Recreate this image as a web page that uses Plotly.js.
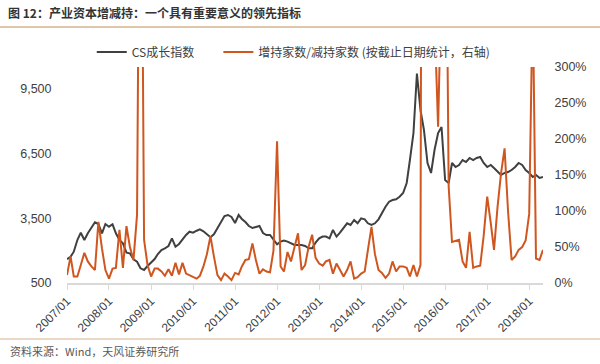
<!DOCTYPE html>
<html>
<head>
<meta charset="utf-8">
<script src="https://cdn.plot.ly/plotly-3.0.1.min.js"></script>
<style>html,body{margin:0;padding:0;background:#fff;}#chart{width:600px;height:364px;}</style>
</head>
<body>
<div id="chart"></div>
<script>
// Monthly data, 2007/01 .. 2018/05
const startMonth = "2007-01";
const monthCount = 137;

const csGrowth = [
  1597,1718,1949,2491,2829,2491,2801,3032,3310,3231,2801,3231,
  3107,3218,2801,2491,2338,1903,1872,1597,1486,1181,1102,1287,
  1456,1611,1843,2028,2106,2213,2569,2181,2306,2523,2722,2875,
  2829,2921,2986,2894,2755,2620,2755,3046,3315,3602,3648,3556,
  3278,3648,3463,3324,3139,3046,3093,3139,2815,2722,2722,2491,
  2292,2415,2461,2415,2338,2259,2259,2259,2213,2106,2106,2366,
  2569,2647,2647,2569,2954,2647,2829,3032,3264,3185,3417,3264,
  3495,3449,3264,3185,3264,3449,3755,4032,4264,4343,4375,4495,
  4667,5130,6194,7444,10200,8509,7583,6056,5593,6657,7444,7722,
  5269,5130,6056,5870,5963,6194,6102,6287,6194,6287,6333,6056,
  5870,5963,5824,5639,5500,5593,5639,5731,5870,6056,5963,5731,
  5593,5407,5500,5361,5407
];

// 增持家数/减持家数 in percent
const buySellRatio = [
  11,37,9,9,25,42,30,23,18,85,48,18,
  6,20,21,74,21,79,50,32,95,800,60,25,
  9,20,20,16,10,19,10,28,12,28,13,11,
  9,6,10,23,40,65,37,11,4,13,9,4,
  14,12,23,32,33,55,32,13,19,16,15,45,
  197,23,16,43,30,50,69,18,25,50,67,35,
  27,24,30,32,13,27,18,9,18,30,6,8,
  13,16,46,78,40,18,14,7,13,30,16,23,
  23,21,9,25,9,25,2000,2000,2000,368,217,424,
  700,134,57,59,60,30,21,71,21,23,24,65,
  120,83,46,106,152,187,100,32,37,46,50,59,
  96,400,34,32,46
];

const leftTicks = [500, 3500, 6500, 9500];
const rightTicks = [0, 50, 100, 150, 200, 250, 300];
const rightTickText = rightTicks.map(v => v + "%");

const seriesNames = ["CS成长指数", "增持家数/减持家数 (按截止日期统计，右轴)"];
const titleText = "图 12：产业资本增减持：一个具有重要意义的领先指标";
const sourceText = "资料来源：Wind，天风证券研究所";

const months = [];
for (let i = 0; i < monthCount; i++) {
  const y = 2007 + Math.floor(i / 12);
  const m = (i % 12) + 1;
  months.push(y + "-" + (m < 10 ? "0" + m : m) + "-01");
}

const FONT = "Liberation Sans, Arial, Noto Sans CJK SC, sans-serif";
const CJK = "Noto Sans CJK SC, sans-serif";

const traces = [
  {
    x: months, y: csGrowth, name: seriesNames[0], type: "scatter", mode: "lines",
    line: {color: "#404040", width: 2}, yaxis: "y", legend: "legend"
  },
  {
    x: months, y: buySellRatio, name: seriesNames[1], type: "scatter", mode: "lines",
    line: {color: "#D0561F", width: 2}, yaxis: "y2", legend: "legend2"
  }
];

const legendStyle = {
  orientation: "h", xanchor: "left", y: 1.07, yanchor: "middle",
  font: {family: CJK, size: 12, color: "#404040"},
  bgcolor: "rgba(0,0,0,0)", itemwidth: 30
};

const layout = {
  width: 600, height: 364,
  margin: {l: 67, r: 57, t: 67, b: 81},
  paper_bgcolor: "#fff", plot_bgcolor: "#fff",
  font: {family: CJK, size: 12, color: "#404040"},
  showlegend: true,
  legend: Object.assign({x: 0.052}, legendStyle),
  legend2: Object.assign({x: 0.318}, legendStyle),
  title: {
    text: titleText, x: 8 / 600, xref: "container", xanchor: "left",
    y: 1 - 14 / 364, yref: "container", yanchor: "middle",
    font: {family: CJK, size: 12, color: "#333333", weight: "bold"}
  },
  xaxis: {
    type: "date", range: ["2007-01-01", "2018-05-01"],
    tick0: "2007-01-01", dtick: "M12", tickformat: "%Y/%m",
    tickangle: -45, ticks: "outside", ticklen: 5, tickcolor: "#d9d9d9",
    showline: true, linecolor: "#d9d9d9", linewidth: 1.5,
    showgrid: false, zeroline: false,
    tickfont: {family: FONT, size: 12, color: "#404040"}
  },
  yaxis: {
    range: [500, 10500], tickvals: leftTicks, tickformat: ",",
    showgrid: false, zeroline: false, showline: false,
    ticks: "outside", ticklen: 12, tickcolor: "rgba(0,0,0,0)",
    tickfont: {family: FONT, size: 12.5, color: "#404040"}
  },
  yaxis2: {
    overlaying: "y", side: "right", range: [0, 300],
    tickvals: rightTicks, ticktext: rightTickText,
    showgrid: false, zeroline: false, showline: false,
    ticks: "outside", ticklen: 8, tickcolor: "rgba(0,0,0,0)",
    tickfont: {family: FONT, size: 12.5, color: "#404040"}
  },
  shapes: [
    {type: "line", xref: "paper", yref: "paper",
     x0: -67/476, x1: 533/476, y0: (283-27)/216, y1: (283-27)/216,
     line: {color: "#d2b38c", width: 1.5}},
    {type: "line", xref: "paper", yref: "paper",
     x0: -67/476, x1: 533/476, y0: (283-339)/216, y1: (283-339)/216,
     line: {color: "#d2b38c", width: 1}}
  ],
  annotations: [
    {text: sourceText, xref: "paper", yref: "paper",
     x: (8-67)/476, y: (283-351)/216, xanchor: "left", yanchor: "middle",
     showarrow: false, font: {family: CJK, size: 11, color: "#595959"}}
  ]
};

Plotly.newPlot("chart", traces, layout, {displayModeBar: false, staticPlot: true});
</script>
</body>
</html>
